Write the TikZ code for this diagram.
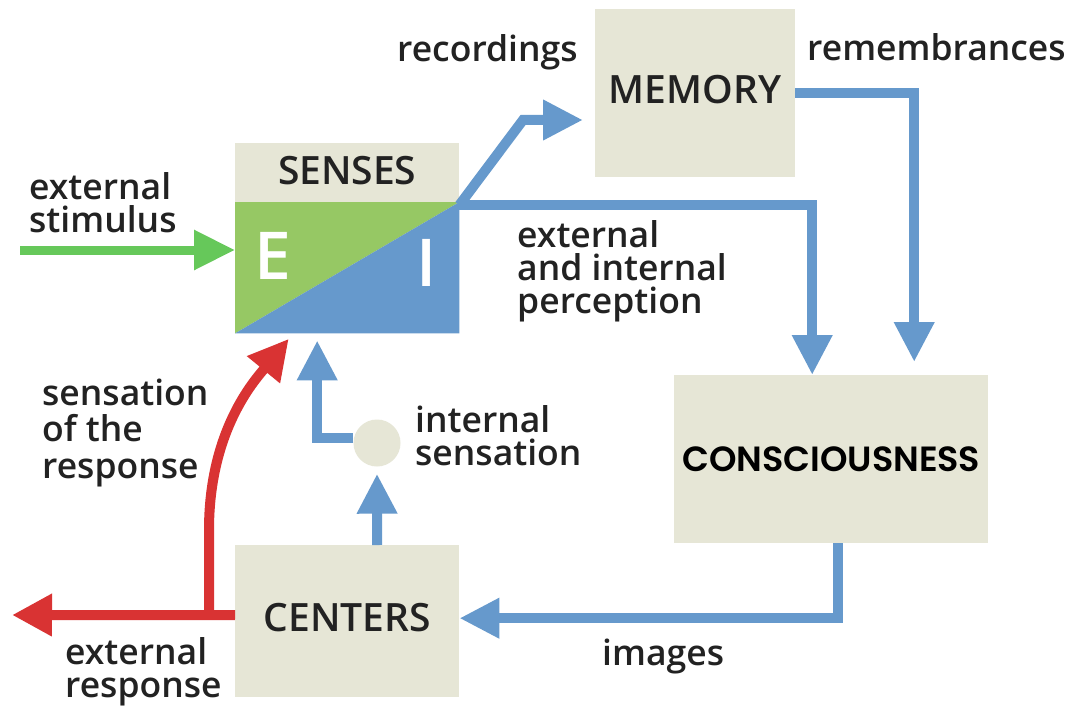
\documentclass[tikz,border=0pt]{standalone}
\usepackage{fontspec}
\usetikzlibrary{arrows.meta}
\IfFontExistsTF{Open Sans SemiBold}
 {\newfontfamily\labfam{Open Sans SemiBold}\newcommand\lab{\labfam}}
 {\IfFontExistsTF{Open Sans Semibold}
   {\newfontfamily\labfam{Open Sans Semibold}\newcommand\lab{\labfam}}
   {\newfontfamily\labfam{Open Sans}\newcommand\lab{\labfam\bfseries}}}
\IfFontExistsTF{Poppins SemiBold}
 {\newfontfamily\geofam{Poppins SemiBold}\newcommand\geo{\geofam}}
 {\newfontfamily\geofam{Poppins}\newcommand\geo{\geofam\bfseries}}
\definecolor{beige}{HTML}{E6E6D6}
\definecolor{egreen}{HTML}{96C864}
\definecolor{agreen}{HTML}{66C85A}
\definecolor{iblue}{HTML}{6699CC}
\definecolor{rred}{HTML}{D93333}
\definecolor{ink}{HTML}{222222}
\begin{document}
\begin{tikzpicture}[x=1pt,y=-1pt,
  box/.style={fill=beige, inner sep=0pt, anchor=north west, text=ink,
    font=\lab\fontsize{39}{40}\selectfont},
  lbl/.style={inner sep=0pt, anchor=base west, align=left, text=ink,
    font=\lab\fontsize{35.5}{33}\selectfont},
  tipb/.style={-{Triangle[length=40pt,width=38pt]}},
  bline/.style={draw=iblue, line width=10pt, tipb},
  rline/.style={draw=rred, line width=10pt, -{Triangle[length=40pt,width=40pt]}},
  gline/.style={draw=agreen, line width=9pt, -{Triangle[length=41pt,width=38pt]}}]
\useasboundingbox (0,0) rectangle (1070,706);
\fill[white] (0,0) rectangle (1070,706);

% boxes
\node[box, minimum width=224pt, minimum height=59pt, text depth=0pt, text height=24pt] (senses) at (235,143) {SENSES};
\node[inner sep=0pt, anchor=north west, minimum width=224pt, minimum height=131pt] (ei) at (235,202) {};
\fill[egreen] (ei.north west) -- (ei.north east) -- (ei.south west) -- cycle;
\fill[iblue] (ei.north east) -- (ei.south east) -- (ei.south west) -- cycle;
\node[text=white, inner sep=0pt, font=\lab\fontsize{66}{66}\selectfont] (E) at (273,256) {E};
\node[text=white, inner sep=0pt, font=\lab\fontsize{66}{66}\selectfont] (I) at (427,263) {I};
\node[box, minimum width=200pt, minimum height=168pt, text depth=8pt] (memory) at (595,9) {MEMORY};
\node[box, minimum width=314pt, minimum height=168pt, text=black,
  font=\geo\fontsize{35}{36}\selectfont] (cons) at (674,375) {CONSCIOUSNESS};
\node[box, minimum width=224pt, minimum height=152pt, text depth=8pt] (centers) at (235,545) {CENTERS};
\node[circle, fill=beige, minimum size=47pt, inner sep=0pt] (circ) at (377,443) {};

% free ends
\coordinate (stim) at (20,250);
\coordinate (recbend) at (523,120);
\coordinate (rectip) at (583,120);
\coordinate (resp) at (12,615);
\coordinate (branch) at (209,615);
\coordinate (bend) at (209,530);

% connectors
\draw[gline] (stim) -- (stim -| ei.west);
\draw[bline] ([yshift=-3pt]ei.north east) -| ([xshift=-19pt]cons.north);
\draw[bline] ([yshift=-3pt]ei.north east) -- (recbend) -- (rectip);
\draw[bline, shorten >=13pt] (memory.east) -| ([xshift=83pt]cons.north);
\draw[bline] ([xshift=7pt]cons.south) |- ([yshift=3pt]centers.east);
\draw[bline, shorten >=7pt] ([xshift=30pt]centers.north) -- (circ.south);
\draw[bline, shorten >=7pt] ([yshift=5pt]circ.west) -| ([xshift=-30pt]ei.south);
\draw[rline] ([yshift=6pt]centers.west) -- (resp);
\draw[rline, shorten >=7pt] (branch) -- (bend) .. controls (209,430) and (255,380) .. ([xshift=-54pt]ei.south);

% labels (anchor = baseline of the last line)
\node[lbl] (l1) at (29,232) {external\\stimulus};
\node[lbl] (l2) at (397,62) {recordings};
\node[lbl] (l3) at (807,61) {remembrances};
\node[lbl] (l4) at (517,313) {external\\and internal\\perception};
\node[lbl, font=\lab\fontsize{35.5}{36.5}\selectfont] (l5) at (42,478) {sensation\\of the\\response};
\node[lbl] (l6) at (415,465) {internal\\sensation};
\node[lbl] (l7) at (65,697) {external\\response};
\node[lbl] (l8) at (602,665) {images};
\end{tikzpicture}
\end{document}
